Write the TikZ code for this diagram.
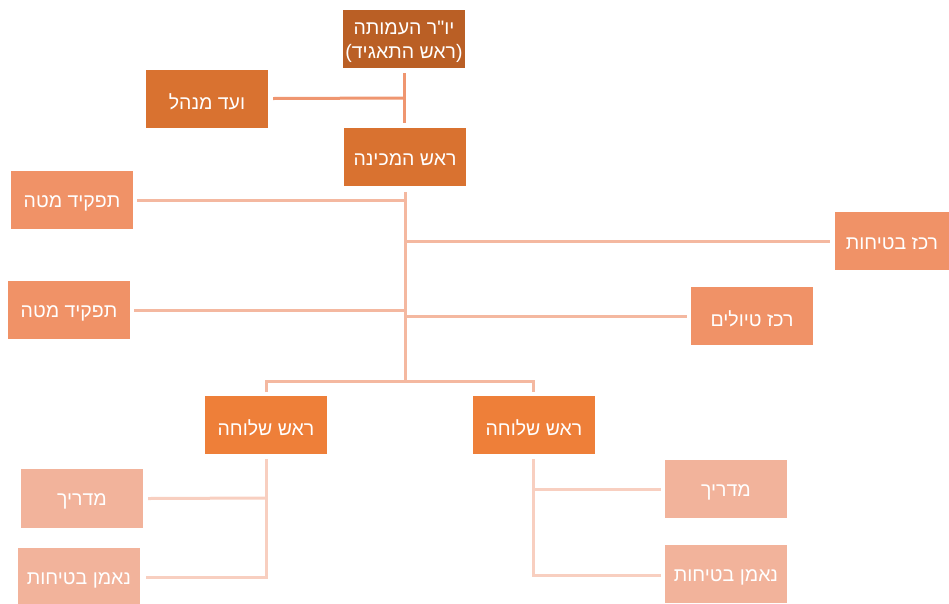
\documentclass[tikz,border=0pt]{standalone}
\usepackage{fontspec}
\newfontfamily\hebfont[Script=Hebrew]{Liberation Sans}
\TeXXeTstate=1
\usetikzlibrary{calc}
\definecolor{cTop}{HTML}{BA5F25}
\definecolor{cMid}{HTML}{D97230}
\definecolor{cStaff}{HTML}{F09267}
\definecolor{cBranch}{HTML}{EE7F39}
\definecolor{cLow}{HTML}{F2B39B}
\definecolor{lTop}{HTML}{EF9670}
\definecolor{lMid}{HTML}{F4B8A0}
\definecolor{lLow}{HTML}{F8CFC0}
\tikzset{
  box/.style={rectangle, inner sep=0pt, minimum width=122pt, minimum height=58pt},
  txt/.style={inner sep=0pt, text=white, font=\hebfont\fontsize{19.5}{24}\selectfont, align=center},
  ln/.style={line width=3pt}
}
\newcommand\orgbox[5][]{%
  \node[box, fill=#3, #1] (#2) at (#4) {};
  \node[txt] (#2-t) at ($(#2)+(0,3)$) {#5};}
\begin{document}
\begin{tikzpicture}[x=1pt,y=-1pt]
\useasboundingbox (0,0) rectangle (949,603);
\clip (0,0) rectangle (949,603);
% boxes
\orgbox{top}{cTop}{404,39}{\beginR יו"ר העמותה\endR\\\beginR (ראש התאגיד)\endR}
\orgbox{vaad}{cMid}{207,98.5}{\beginR ועד מנהל\endR}
\orgbox{rosh}{cMid}{405,157}{\beginR ראש המכינה\endR}
\orgbox{mate1}{cStaff}{72,200}{\beginR תפקיד מטה\endR}
\orgbox[minimum width=114pt]{betichut}{cStaff}{892,241}{\beginR רכז בטיחות\endR}
\orgbox{mate2}{cStaff}{69,310}{\beginR תפקיד מטה\endR}
\orgbox{tiyulim}{cStaff}{752,316}{\beginR רכז טיולים\endR}
\orgbox{shL}{cBranch}{266,425}{\beginR ראש שלוחה\endR}
\orgbox{shR}{cBranch}{534,425}{\beginR ראש שלוחה\endR}
\orgbox[minimum height=59pt]{madL}{cLow}{82,498.5}{\beginR מדריך\endR}
\orgbox{madR}{cLow}{726,489}{\beginR מדריך\endR}
\orgbox{neL}{cLow}{79,577}{\beginR נאמן בטיחות\endR}
\orgbox{neR}{cLow}{726,574}{\beginR נאמן בטיחות\endR}
% coordinates
\coordinate (t1) at (404,73);
\coordinate (t2) at (404,123);
\coordinate (tv) at (404,98);
\coordinate (m1) at (405,192);
\coordinate (m2) at (405,381);
\coordinate (bL) at (266,381);
\coordinate (bR) at (533,381);
\coordinate (bLd) at (266,392);
\coordinate (bRd) at (533,392);
\coordinate (lL1) at (266,459);
\coordinate (lL2) at (266,577);
\coordinate (lLm) at (266,498);
\coordinate (lR1) at (533,459);
\coordinate (lR2) at (533,575);
\coordinate (lRm) at (533,489);
% top connectors
\draw[ln, lTop] (t1) -- (t2);
\draw[ln, lTop] ($(vaad.east)+(5,0)$) -- (tv);
% middle connectors
\draw[ln, lMid] (m1) -- (m2);
\draw[ln, lMid] ($(mate1.east)+(4,0)$) -- (mate1.east -| m1);
\draw[ln, lMid] ($(mate2.east)+(4,0)$) -- (mate2.east -| m1);
\draw[ln, lMid] (m1 |- betichut.west) -- ($(betichut.west)+(-5,0)$);
\draw[ln, lMid] (m1 |- tiyulim.west) -- ($(tiyulim.west)+(-4,0)$);
\draw[ln, lMid] (bLd) -- (bL) -- (bR) -- (bRd);
% lower connectors
\draw[ln, lLow] (lL1) -- (lL2) -- ($(neL.east)+(6,0)$);
\draw[ln, lLow] (lLm) -- ($(madL.east)+(5,0)$);
\draw[ln, lLow] (lR1) -- (lR2) -- ($(neR.west)+(-4,1)$);
\draw[ln, lLow] (lRm) -- ($(madR.west)+(-4,0)$);
\end{tikzpicture}
\end{document}
